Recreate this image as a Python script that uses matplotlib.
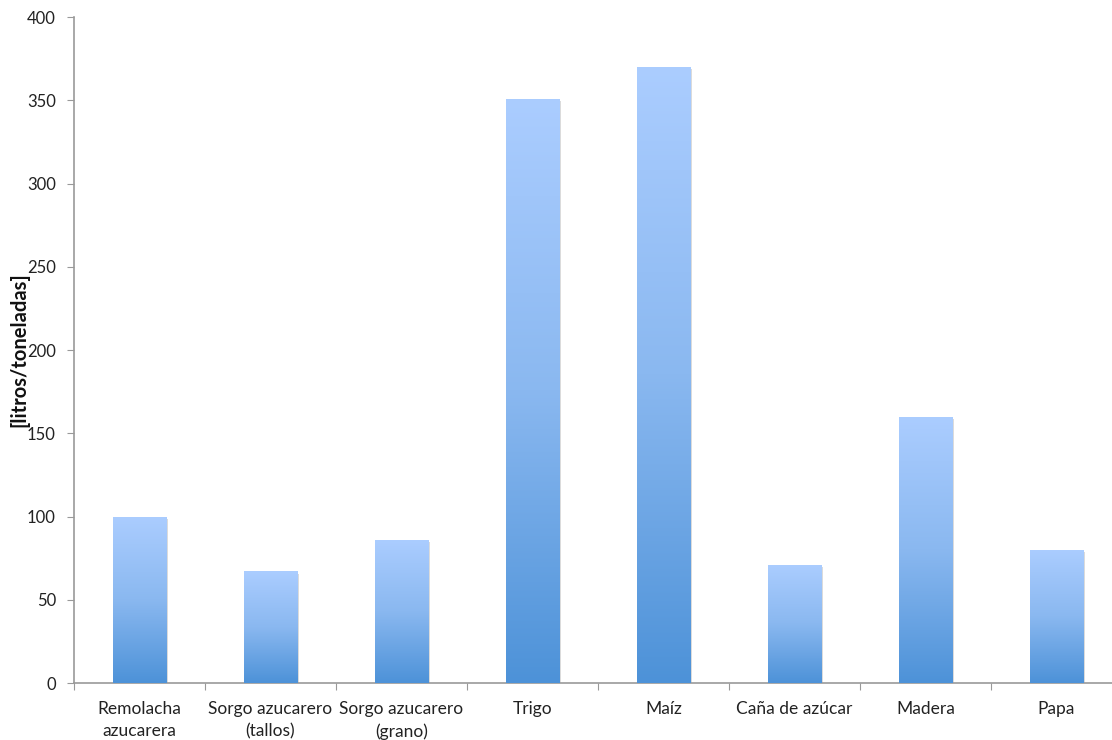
import numpy as np
import matplotlib
matplotlib.use("Agg")
import matplotlib.pyplot as plt
import matplotlib.patheffects as pe
from matplotlib.colors import LinearSegmentedColormap

categories = ["Remolacha\nazucarera", "Sorgo azucarero\n(tallos)", "Sorgo azucarero\n(grano)",
              "Trigo", "Maíz", "Caña de azúcar", "Madera", "Papa"]
values = [100, 67, 86, 351, 370, 71, 160, 80]
yticks = [0, 50, 100, 150, 200, 250, 300, 350, 400]

plt.rcParams['font.family'] = ['Lato', 'DejaVu Sans']

fig = plt.figure(figsize=(11.12, 7.4), dpi=100)
ax = fig.add_axes([0.0665, 0.077, 0.9424, 0.9])

grad = LinearSegmentedColormap.from_list("blue_grad", ["#4d92d8", "#8ab8f0", "#abcdff"])
gradient = np.linspace(0, 1, 256).reshape(-1, 1)

x = np.arange(len(categories))
width = 0.405
bars = ax.bar(x, values, width=width, color="#7fb0ee", zorder=2,
              path_effects=[pe.SimplePatchShadow(offset=(1.5, -1.5), shadow_rgbFace="#888888", alpha=0.3),
                            pe.Normal()])
for b in bars:
    x0, y0 = b.get_x(), b.get_y()
    im = ax.imshow(gradient, cmap=grad, origin="lower", aspect="auto",
                   extent=[x0, x0 + b.get_width(), y0, y0 + b.get_height()], zorder=3)
    im.set_clip_path(b)

ax.set_xlim(-0.5, len(categories) - 0.5)
ax.set_ylim(0, 400)
ax.set_yticks(yticks)
ax.set_xticks(np.arange(len(categories) + 1) - 0.5, minor=False)
ax.set_xticklabels([])
ax.set_xticks(x, minor=True)
ax.set_xticklabels(categories, minor=True, fontsize=12.5, color="#222222", linespacing=1.45)
ax.tick_params(axis="x", which="minor", length=0, pad=13)
ax.tick_params(axis="x", which="major", length=5, color="#999999", direction="out")
ax.tick_params(axis="y", length=5, color="#999999", labelsize=12, labelcolor="#222222", pad=8)

for s in ["top", "right"]:
    ax.spines[s].set_visible(False)
for s in ["left", "bottom"]:
    ax.spines[s].set_color("#999999")
    ax.spines[s].set_linewidth(1.2)

fig.text(19 / 1112, 0.528, "[litros/toneladas]", rotation=90, fontsize=14.5,
         fontweight="bold", ha="center", va="center", color="#111111")

fig.savefig("out.png", dpi=100)
